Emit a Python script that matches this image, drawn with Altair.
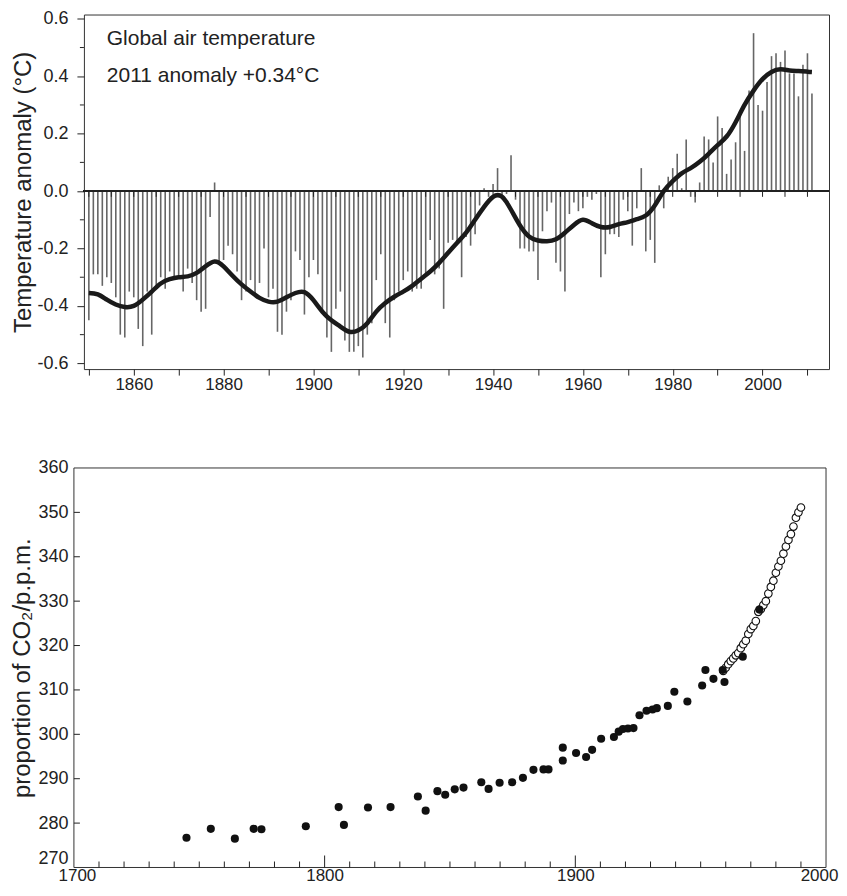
import altair as alt
import pandas as pd

# ---------------- data: global air temperature anomaly ----------------
years = list(range(1850, 2012))
anomaly = [
    -0.45, -0.29, -0.29, -0.33, -0.30, -0.32, -0.37, -0.50, -0.51, -0.35,
    -0.37, -0.48, -0.54, -0.35, -0.50, -0.34, -0.30, -0.34, -0.28, -0.30,
    -0.30, -0.35, -0.27, -0.32, -0.38, -0.42, -0.41, -0.09, 0.03, -0.25,
    -0.24, -0.19, -0.22, -0.28, -0.38, -0.35, -0.31, -0.37, -0.32, -0.20,
    -0.37, -0.34, -0.49, -0.50, -0.42, -0.38, -0.21, -0.24, -0.43, -0.30,
    -0.24, -0.29, -0.42, -0.51, -0.56, -0.41, -0.35, -0.52, -0.56, -0.56,
    -0.54, -0.58, -0.50, -0.46, -0.31, -0.22, -0.46, -0.51, -0.38, -0.35,
    -0.31, -0.28, -0.35, -0.34, -0.34, -0.29, -0.17, -0.29, -0.27, -0.41,
    -0.18, -0.17, -0.18, -0.30, -0.16, -0.19, -0.15, -0.05, 0.01, -0.02,
    0.025, 0.08, -0.02, -0.01, 0.125, -0.03, -0.20, -0.20, -0.21, -0.21,
    -0.31, -0.14, -0.07, -0.04, -0.25, -0.28, -0.35, -0.08, -0.04, -0.07,
    -0.06, -0.02, -0.03, -0.01, -0.30, -0.22, -0.15, -0.15, -0.16, -0.03,
    -0.07, -0.19, -0.06, 0.08, -0.21, -0.17, -0.25, 0.02, -0.06, 0.05,
    0.08, 0.13, 0.01, 0.18, -0.02, -0.04, 0.03, 0.19, 0.18, 0.10,
    0.26, 0.22, 0.06, 0.11, 0.17, 0.28, 0.14, 0.35, 0.55, 0.30,
    0.28, 0.38, 0.47, 0.48, 0.45, 0.49, 0.41, 0.41, 0.33, 0.44,
    0.48, 0.34,
]

smooth_years = [
    1850, 1852, 1854, 1856, 1858, 1860, 1862, 1864, 1866, 1868, 1870, 1872,
    1874, 1876, 1878, 1880, 1882, 1884, 1886, 1888, 1890, 1892, 1894, 1896,
    1898, 1900, 1902, 1904, 1906, 1908, 1910, 1912, 1914, 1916, 1918, 1920,
    1922, 1924, 1926, 1928, 1930, 1932, 1934, 1936, 1938, 1940, 1942, 1944,
    1946, 1948, 1950, 1952, 1954, 1956, 1958, 1960, 1962, 1964, 1966, 1968,
    1970, 1972, 1974, 1976, 1978, 1980, 1982, 1984, 1986, 1988, 1990, 1992,
    1994, 1996, 1998, 2000, 2002, 2004, 2006, 2008, 2010, 2011,
]
smooth_values = [
    -0.355, -0.36, -0.378, -0.395, -0.404, -0.40, -0.378, -0.35, -0.322, -0.307, -0.30, -0.297,
    -0.285, -0.262, -0.245, -0.262, -0.295, -0.325, -0.35, -0.372, -0.385, -0.385, -0.37, -0.355,
    -0.352, -0.38, -0.42, -0.45, -0.472, -0.49, -0.485, -0.46, -0.42, -0.39, -0.368, -0.35,
    -0.33, -0.305, -0.28, -0.25, -0.215, -0.18, -0.145, -0.10, -0.055, -0.02, -0.02, -0.065,
    -0.12, -0.158, -0.172, -0.175, -0.168, -0.145, -0.118, -0.10, -0.112, -0.125, -0.125, -0.115,
    -0.108, -0.098, -0.085, -0.05, 0.0, 0.035, 0.062, 0.08, 0.102, 0.13, 0.16, 0.19,
    0.24, 0.30, 0.35, 0.39, 0.415, 0.424, 0.42, 0.418, 0.416, 0.415,
]

temp_y_ticks = [-0.6, -0.4, -0.2, 0.0, 0.2, 0.4, 0.6]
temp_y_minor = [-0.5, -0.3, -0.1, 0.1, 0.3, 0.5]
temp_x_ticks = list(range(1850, 2015, 5))
annotation_lines = ["Global air temperature", "2011 anomaly +0.34°C"]
annotation_year = [1854, 1854]
annotation_value = [0.53, 0.40]

# ---------------- data: CO2 ----------------
ice_years = [
    1744.9, 1754.6, 1764.2, 1771.7, 1774.8, 1792.5, 1805.6, 1807.7, 1817.3, 1826.3,
    1837.2, 1840.3, 1845.0, 1848.1, 1851.9, 1855.4, 1862.5, 1865.4, 1869.8, 1874.8,
    1879.1, 1883.3, 1887.3, 1889.3, 1895.0, 1895.0, 1900.3, 1904.3, 1906.7, 1910.3,
    1915.4, 1917.3, 1919.0, 1921.0, 1923.2, 1925.6, 1928.4, 1930.8, 1932.5, 1936.9,
    1939.5, 1944.7, 1950.6, 1951.9, 1955.1, 1959.5, 1958.8, 1966.8, 1973.4,
]
ice_ppm = [
    276.7, 278.7, 276.5, 278.7, 278.6, 279.3, 283.6, 279.6, 283.5, 283.6,
    286.0, 282.8, 287.2, 286.4, 287.6, 288.0, 289.2, 287.7, 289.1, 289.2,
    290.2, 292.0, 292.1, 292.1, 297.0, 294.1, 295.8, 294.9, 296.5, 299.0,
    299.4, 300.6, 301.2, 301.3, 301.4, 304.3, 305.3, 305.6, 305.9, 306.4,
    309.6, 307.4, 311.0, 314.5, 312.5, 311.8, 314.5, 317.5, 328.1,
]
ml_years = list(range(1959, 1991))
ml_ppm = [
    314.3, 315.0, 315.8, 316.5, 317.1, 317.8, 318.3, 319.4, 320.3, 321.1,
    322.6, 323.7, 324.4, 325.5, 327.6, 328.2, 329.1, 330.0, 331.7, 333.2,
    334.6, 336.4, 337.8, 339.1, 340.7, 342.3, 343.8, 345.1, 346.8, 348.8,
    350.0, 351.1,
]
co2_y_ticks = [270, 280, 290, 300, 310, 320, 330, 340, 350, 360]
co2_inner_y_ticks = [280, 290, 300, 310, 320, 330, 340, 350]
co2_x_labels = [1700, 1800, 1900, 2000]
co2_minor_x = [y for y in range(1710, 2000, 10) if y not in (1800, 1900)]
co2_major_x = [1800, 1900]

# ---------------- chart 1 ----------------
W1, H1 = 746, 355
W2, H2 = 743, 400     # bottom group; its frame starts 10px left of the group origin
SHIFT = 10
INK = "#222222"

bars_df = pd.DataFrame({"year": years, "anomaly": anomaly})
smooth_df = pd.DataFrame({"year": smooth_years, "value": smooth_values})
minor_df = pd.DataFrame({"v": temp_y_minor})
zt_df = pd.DataFrame({"year": temp_x_ticks})
ann_df = pd.DataFrame({"year": annotation_year, "value": annotation_value, "txt": annotation_lines})

xs1 = alt.Scale(domain=[1848.9, 2014.8], nice=False, zero=False)
ys1 = alt.Scale(domain=[-0.62, 0.615], nice=False, zero=False)

x1 = alt.X(
    "year:Q", scale=xs1, title=None,
    axis=alt.Axis(
        values=temp_x_ticks,
        labelExpr="datum.value % 20 == 0 ? format(datum.value, 'd') : ''",
        tickSize=6, labelPadding=1, labelFlush=False, labelOverlap=False,
        labelFontSize=17, domain=False, grid=False,
    ),
)
y1 = alt.Y(
    "anomaly:Q", scale=ys1, title="Temperature anomaly (°C)",
    axis=alt.Axis(
        values=temp_y_ticks,
        labelExpr="replace(format(datum.value, '.1f'), '\u2212', '-')",
        tickSize=7, labelPadding=9, titlePadding=1, labelFontSize=18,
        domain=False, grid=False,
    ),
)

bars = alt.Chart(bars_df).mark_rule(color="#666666", strokeWidth=1.6).encode(
    x=x1, y=y1, y2=alt.datum(0)
)
zero_line = alt.Chart(bars_df).mark_rule(color=INK, strokeWidth=1).encode(
    y=alt.datum(0), x=alt.value(0), x2=alt.value(W1)
)
zero_ticks = alt.Chart(zt_df).mark_rule(color=INK, strokeWidth=1).encode(
    x=alt.X("year:Q", scale=xs1), y=alt.datum(0), y2=alt.datum(-0.02)
)
minor_ticks = alt.Chart(minor_df).mark_rule(color=INK, strokeWidth=1).encode(
    y=alt.Y("v:Q", scale=ys1), x=alt.value(-4), x2=alt.value(0)
)
smooth = alt.Chart(smooth_df).mark_line(
    color="#1a1a1a", strokeWidth=4.5, interpolate="natural"
).encode(x=alt.X("year:Q", scale=xs1), y=alt.Y("value:Q", scale=ys1))
ann = alt.Chart(ann_df).mark_text(
    align="left", baseline="middle", fontSize=21, font="Liberation Sans", color=INK
).encode(x=alt.X("year:Q", scale=xs1), y=alt.Y("value:Q", scale=ys1), text="txt:N")

top = alt.layer(bars, zero_ticks, zero_line, minor_ticks, smooth, ann).properties(
    width=W1, height=H1
)

# ---------------- chart 2 ----------------
ice_df = pd.DataFrame({"year": ice_years, "ppm": ice_ppm})
ml_df = pd.DataFrame({"year": ml_years, "ppm": ml_ppm})
mx_df = pd.DataFrame({"year": co2_minor_x})
Mx_df = pd.DataFrame({"year": co2_major_x})
iy_df = pd.DataFrame({"ppm": co2_inner_y_ticks})
frame_df = pd.DataFrame({"k": [0]})

xs2 = alt.Scale(domain=[1700, 2000], range=[-SHIFT, W2], nice=False, zero=False)
ys2 = alt.Scale(domain=[270, 360], nice=False, zero=False)

x2 = alt.X(
    "year:Q", scale=xs2, title=None,
    axis=alt.Axis(
        values=co2_x_labels, format="d", tickSize=0, labelPadding=0,
        labelFlush=False, labelOverlap=False, labelFontSize=17,
        labelOffset={"condition": [{"test": "datum.value == 2000", "value": -7},
                                   {"test": "datum.value == 1700", "value": 3}],
                     "value": 0},
        domain=False, grid=False,
    ),
)
y2 = alt.Y(
    "ppm:Q", scale=ys2, title="proportion of CO\u2082/p.p.m.",
    axis=alt.Axis(
        values=co2_y_ticks, tickSize=0, labelPadding=6, titlePadding=3,
        labelFontSize=18, offset=SHIFT,
        labelBaseline={"condition": {"test": "datum.value == 270", "value": "bottom"},
                       "value": "middle"},
        domain=False, grid=False,
    ),
)

frame = alt.Chart(frame_df).mark_rect(
    filled=False, stroke="#333333", strokeWidth=1
).encode(x=alt.value(-SHIFT), x2=alt.value(W2), y=alt.value(0), y2=alt.value(H2))
open_pts = alt.Chart(ml_df).mark_point(
    shape="circle", filled=True, fill="white", stroke="#111", strokeWidth=1.1, size=58, opacity=1
).encode(x=x2, y=y2)
filled_pts = alt.Chart(ice_df).mark_circle(color="#111", size=66, opacity=1).encode(
    x=alt.X("year:Q", scale=xs2), y=alt.Y("ppm:Q", scale=ys2)
)
minor_x = alt.Chart(mx_df).mark_rule(color=INK, strokeWidth=1).encode(
    x=alt.X("year:Q", scale=xs2), y=alt.value(H2), y2=alt.value(H2 - 6)
)
major_x = alt.Chart(Mx_df).mark_rule(color=INK, strokeWidth=1).encode(
    x=alt.X("year:Q", scale=xs2), y=alt.value(H2), y2=alt.value(H2 - 12)
)
inner_y = alt.Chart(iy_df).mark_rule(color=INK, strokeWidth=1).encode(
    y=alt.Y("ppm:Q", scale=ys2), x=alt.value(-SHIFT), x2=alt.value(-SHIFT + 6)
)

bottom = alt.layer(frame, open_pts, filled_pts, minor_x, major_x, inner_y).properties(
    width=W2, height=H2, view=alt.ViewBackground(stroke="transparent")
)

chart = (
    alt.concat(top, bottom, columns=1, spacing=65, bounds="full")
    .properties(padding={"left": 2, "top": 0, "right": 0, "bottom": 0})
    .configure_view(stroke="#333333", strokeWidth=1)
    .configure_axis(
        labelFont="Liberation Sans", labelColor=INK,
        titleFont="Liberation Sans", titleFontSize=24, titleFontWeight="normal",
        titleColor=INK, tickColor=INK,
    )
)

chart.save("out.html", embed_options={"renderer": "svg", "actions": False})
